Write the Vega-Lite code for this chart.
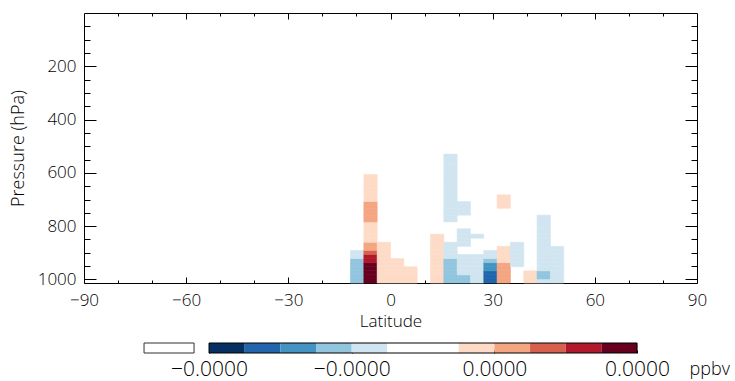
{
  "$schema": "https://vega.github.io/schema/vega-lite/v6.json",
  "padding": {"left": 8, "top": 12, "right": 0, "bottom": 4},
  "background": "white",
  "config": {
    "font": "Open Sans",
    "axis": {"labelFont": "Open Sans", "titleFont": "Open Sans", "labelFontWeight": 300, "titleFontWeight": 300, "labelColor": "#000000", "titleColor": "#000000", "tickColor": "#000000", "domainColor": "#000000", "labelFontSize": 17, "titleFontSize": 17, "labelFlush": false, "grid": false, "domain": false, "labelOverlap": false}
  },
  "datasets": {
    "cells": [
      {"lat":-11.739,"lat2":-7.826,"p":1013.25,"p2":998.05,"c":4},
      {"lat":-11.739,"lat2":-7.826,"p":998.05,"p2":982.76,"c":4},
      {"lat":-11.739,"lat2":-7.826,"p":982.76,"p2":967.47,"c":4},
      {"lat":-11.739,"lat2":-7.826,"p":967.47,"p2":952.19,"c":4},
      {"lat":-11.739,"lat2":-7.826,"p":952.19,"p2":936.91,"c":4},
      {"lat":-11.739,"lat2":-7.826,"p":936.91,"p2":921.62,"c":4},
      {"lat":-11.739,"lat2":-7.826,"p":921.62,"p2":906.34,"c":5},
      {"lat":-11.739,"lat2":-7.826,"p":906.34,"p2":891.05,"c":5},
      {"lat":-7.826,"lat2":-3.913,"p":1013.25,"p2":998.05,"c":12},
      {"lat":-7.826,"lat2":-3.913,"p":998.05,"p2":982.76,"c":12},
      {"lat":-7.826,"lat2":-3.913,"p":982.76,"p2":967.47,"c":12},
      {"lat":-7.826,"lat2":-3.913,"p":967.47,"p2":952.19,"c":12},
      {"lat":-7.826,"lat2":-3.913,"p":952.19,"p2":936.91,"c":12},
      {"lat":-7.826,"lat2":-3.913,"p":936.91,"p2":921.62,"c":11},
      {"lat":-7.826,"lat2":-3.913,"p":921.62,"p2":906.34,"c":11},
      {"lat":-7.826,"lat2":-3.913,"p":906.34,"p2":891.05,"c":10},
      {"lat":-7.826,"lat2":-3.913,"p":891.05,"p2":875.77,"c":9},
      {"lat":-7.826,"lat2":-3.913,"p":875.77,"p2":860.49,"c":9},
      {"lat":-7.826,"lat2":-3.913,"p":860.49,"p2":845.21,"c":8},
      {"lat":-7.826,"lat2":-3.913,"p":845.21,"p2":829.92,"c":8},
      {"lat":-7.826,"lat2":-3.913,"p":829.92,"p2":809.55,"c":8},
      {"lat":-7.826,"lat2":-3.913,"p":809.55,"p2":784.08,"c":8},
      {"lat":-7.826,"lat2":-3.913,"p":784.08,"p2":758.62,"c":9},
      {"lat":-7.826,"lat2":-3.913,"p":758.62,"p2":733.15,"c":9},
      {"lat":-7.826,"lat2":-3.913,"p":733.15,"p2":707.69,"c":9},
      {"lat":-7.826,"lat2":-3.913,"p":707.69,"p2":682.23,"c":8},
      {"lat":-7.826,"lat2":-3.913,"p":682.23,"p2":644.05,"c":8},
      {"lat":-7.826,"lat2":-3.913,"p":644.05,"p2":605.87,"c":8},
      {"lat":-3.913,"lat2":0,"p":1013.25,"p2":998.05,"c":8},
      {"lat":-3.913,"lat2":0,"p":998.05,"p2":982.76,"c":8},
      {"lat":-3.913,"lat2":0,"p":982.76,"p2":967.47,"c":8},
      {"lat":-3.913,"lat2":0,"p":967.47,"p2":952.19,"c":8},
      {"lat":-3.913,"lat2":0,"p":952.19,"p2":936.91,"c":8},
      {"lat":-3.913,"lat2":0,"p":936.91,"p2":921.62,"c":8},
      {"lat":-3.913,"lat2":0,"p":921.62,"p2":906.34,"c":8},
      {"lat":-3.913,"lat2":0,"p":906.34,"p2":891.05,"c":8},
      {"lat":-3.913,"lat2":0,"p":891.05,"p2":875.77,"c":8},
      {"lat":-3.913,"lat2":0,"p":875.77,"p2":860.49,"c":8},
      {"lat":0,"lat2":3.913,"p":1013.25,"p2":998.05,"c":8},
      {"lat":0,"lat2":3.913,"p":998.05,"p2":982.76,"c":8},
      {"lat":0,"lat2":3.913,"p":982.76,"p2":967.47,"c":8},
      {"lat":0,"lat2":3.913,"p":967.47,"p2":952.19,"c":8},
      {"lat":0,"lat2":3.913,"p":952.19,"p2":936.91,"c":8},
      {"lat":0,"lat2":3.913,"p":936.91,"p2":921.62,"c":8},
      {"lat":3.913,"lat2":7.826,"p":1013.25,"p2":998.05,"c":8},
      {"lat":3.913,"lat2":7.826,"p":998.05,"p2":982.76,"c":8},
      {"lat":3.913,"lat2":7.826,"p":982.76,"p2":967.47,"c":8},
      {"lat":3.913,"lat2":7.826,"p":967.47,"p2":952.19,"c":8},
      {"lat":11.739,"lat2":15.652,"p":1013.25,"p2":998.05,"c":8},
      {"lat":11.739,"lat2":15.652,"p":998.05,"p2":982.76,"c":8},
      {"lat":11.739,"lat2":15.652,"p":982.76,"p2":967.47,"c":8},
      {"lat":11.739,"lat2":15.652,"p":967.47,"p2":952.19,"c":8},
      {"lat":11.739,"lat2":15.652,"p":952.19,"p2":936.91,"c":8},
      {"lat":11.739,"lat2":15.652,"p":936.91,"p2":921.62,"c":8},
      {"lat":11.739,"lat2":15.652,"p":921.62,"p2":906.34,"c":8},
      {"lat":11.739,"lat2":15.652,"p":906.34,"p2":891.05,"c":8},
      {"lat":11.739,"lat2":15.652,"p":891.05,"p2":875.77,"c":8},
      {"lat":11.739,"lat2":15.652,"p":875.77,"p2":860.49,"c":8},
      {"lat":11.739,"lat2":15.652,"p":860.49,"p2":845.21,"c":8},
      {"lat":11.739,"lat2":15.652,"p":845.21,"p2":829.92,"c":8},
      {"lat":15.652,"lat2":19.565,"p":1013.25,"p2":998.05,"c":4},
      {"lat":15.652,"lat2":19.565,"p":998.05,"p2":982.76,"c":4},
      {"lat":15.652,"lat2":19.565,"p":982.76,"p2":967.47,"c":4},
      {"lat":15.652,"lat2":19.565,"p":967.47,"p2":952.19,"c":4},
      {"lat":15.652,"lat2":19.565,"p":952.19,"p2":936.91,"c":4},
      {"lat":15.652,"lat2":19.565,"p":936.91,"p2":921.62,"c":4},
      {"lat":15.652,"lat2":19.565,"p":921.62,"p2":906.34,"c":5},
      {"lat":15.652,"lat2":19.565,"p":906.34,"p2":891.05,"c":5},
      {"lat":15.652,"lat2":19.565,"p":891.05,"p2":875.77,"c":5},
      {"lat":15.652,"lat2":19.565,"p":875.77,"p2":860.49,"c":5},
      {"lat":15.652,"lat2":19.565,"p":784.08,"p2":758.62,"c":5},
      {"lat":15.652,"lat2":19.565,"p":758.62,"p2":733.15,"c":5},
      {"lat":15.652,"lat2":19.565,"p":733.15,"p2":707.69,"c":5},
      {"lat":15.652,"lat2":19.565,"p":707.69,"p2":682.23,"c":5},
      {"lat":15.652,"lat2":19.565,"p":682.23,"p2":644.05,"c":5},
      {"lat":15.652,"lat2":19.565,"p":644.05,"p2":605.87,"c":5},
      {"lat":15.652,"lat2":19.565,"p":605.87,"p2":567.70,"c":5},
      {"lat":15.652,"lat2":19.565,"p":567.70,"p2":529.52,"c":5},
      {"lat":19.565,"lat2":23.478,"p":1013.25,"p2":998.05,"c":4},
      {"lat":19.565,"lat2":23.478,"p":998.05,"p2":982.76,"c":4},
      {"lat":19.565,"lat2":23.478,"p":982.76,"p2":967.47,"c":5},
      {"lat":19.565,"lat2":23.478,"p":967.47,"p2":952.19,"c":5},
      {"lat":19.565,"lat2":23.478,"p":952.19,"p2":936.91,"c":5},
      {"lat":19.565,"lat2":23.478,"p":936.91,"p2":921.62,"c":5},
      {"lat":19.565,"lat2":23.478,"p":921.62,"p2":906.34,"c":5},
      {"lat":19.565,"lat2":23.478,"p":875.77,"p2":860.49,"c":5},
      {"lat":19.565,"lat2":23.478,"p":860.49,"p2":845.21,"c":5},
      {"lat":19.565,"lat2":23.478,"p":845.21,"p2":829.92,"c":5},
      {"lat":19.565,"lat2":23.478,"p":829.92,"p2":809.55,"c":5},
      {"lat":19.565,"lat2":23.478,"p":758.62,"p2":733.15,"c":5},
      {"lat":19.565,"lat2":23.478,"p":733.15,"p2":707.69,"c":5},
      {"lat":23.478,"lat2":27.391,"p":1013.25,"p2":998.05,"c":5},
      {"lat":23.478,"lat2":27.391,"p":998.05,"p2":982.76,"c":5},
      {"lat":23.478,"lat2":27.391,"p":982.76,"p2":967.47,"c":5},
      {"lat":23.478,"lat2":27.391,"p":967.47,"p2":952.19,"c":5},
      {"lat":23.478,"lat2":27.391,"p":952.19,"p2":936.91,"c":5},
      {"lat":23.478,"lat2":27.391,"p":936.91,"p2":921.62,"c":5},
      {"lat":23.478,"lat2":27.391,"p":921.62,"p2":906.34,"c":5},
      {"lat":23.478,"lat2":27.391,"p":845.21,"p2":829.92,"c":5},
      {"lat":27.391,"lat2":31.304,"p":1013.25,"p2":998.05,"c":2},
      {"lat":27.391,"lat2":31.304,"p":998.05,"p2":982.76,"c":2},
      {"lat":27.391,"lat2":31.304,"p":982.76,"p2":967.47,"c":2},
      {"lat":27.391,"lat2":31.304,"p":967.47,"p2":952.19,"c":3},
      {"lat":27.391,"lat2":31.304,"p":952.19,"p2":936.91,"c":3},
      {"lat":27.391,"lat2":31.304,"p":936.91,"p2":921.62,"c":4},
      {"lat":27.391,"lat2":31.304,"p":921.62,"p2":906.34,"c":5},
      {"lat":27.391,"lat2":31.304,"p":906.34,"p2":891.05,"c":5},
      {"lat":31.304,"lat2":35.217,"p":1013.25,"p2":998.05,"c":9},
      {"lat":31.304,"lat2":35.217,"p":998.05,"p2":982.76,"c":9},
      {"lat":31.304,"lat2":35.217,"p":982.76,"p2":967.47,"c":9},
      {"lat":31.304,"lat2":35.217,"p":967.47,"p2":952.19,"c":9},
      {"lat":31.304,"lat2":35.217,"p":952.19,"p2":936.91,"c":9},
      {"lat":31.304,"lat2":35.217,"p":936.91,"p2":921.62,"c":8},
      {"lat":31.304,"lat2":35.217,"p":921.62,"p2":906.34,"c":8},
      {"lat":31.304,"lat2":35.217,"p":906.34,"p2":891.05,"c":8},
      {"lat":31.304,"lat2":35.217,"p":891.05,"p2":875.77,"c":8},
      {"lat":31.304,"lat2":35.217,"p":733.15,"p2":707.69,"c":8},
      {"lat":31.304,"lat2":35.217,"p":707.69,"p2":682.23,"c":8},
      {"lat":35.217,"lat2":39.130,"p":952.19,"p2":936.91,"c":5},
      {"lat":35.217,"lat2":39.130,"p":936.91,"p2":921.62,"c":5},
      {"lat":35.217,"lat2":39.130,"p":921.62,"p2":906.34,"c":5},
      {"lat":35.217,"lat2":39.130,"p":906.34,"p2":891.05,"c":5},
      {"lat":35.217,"lat2":39.130,"p":891.05,"p2":875.77,"c":5},
      {"lat":35.217,"lat2":39.130,"p":875.77,"p2":860.49,"c":5},
      {"lat":39.130,"lat2":43.043,"p":1013.25,"p2":998.05,"c":8},
      {"lat":39.130,"lat2":43.043,"p":998.05,"p2":982.76,"c":8},
      {"lat":39.130,"lat2":43.043,"p":982.76,"p2":967.47,"c":8},
      {"lat":43.043,"lat2":46.957,"p":1013.25,"p2":998.05,"c":5},
      {"lat":43.043,"lat2":46.957,"p":998.05,"p2":982.76,"c":4},
      {"lat":43.043,"lat2":46.957,"p":982.76,"p2":967.47,"c":4},
      {"lat":43.043,"lat2":46.957,"p":967.47,"p2":952.19,"c":5},
      {"lat":43.043,"lat2":46.957,"p":952.19,"p2":936.91,"c":5},
      {"lat":43.043,"lat2":46.957,"p":936.91,"p2":921.62,"c":5},
      {"lat":43.043,"lat2":46.957,"p":921.62,"p2":906.34,"c":5},
      {"lat":43.043,"lat2":46.957,"p":906.34,"p2":891.05,"c":5},
      {"lat":43.043,"lat2":46.957,"p":891.05,"p2":875.77,"c":5},
      {"lat":43.043,"lat2":46.957,"p":875.77,"p2":860.49,"c":5},
      {"lat":43.043,"lat2":46.957,"p":860.49,"p2":845.21,"c":5},
      {"lat":43.043,"lat2":46.957,"p":845.21,"p2":829.92,"c":5},
      {"lat":43.043,"lat2":46.957,"p":829.92,"p2":809.55,"c":5},
      {"lat":43.043,"lat2":46.957,"p":809.55,"p2":784.08,"c":5},
      {"lat":43.043,"lat2":46.957,"p":784.08,"p2":758.62,"c":5},
      {"lat":46.957,"lat2":50.870,"p":1013.25,"p2":998.05,"c":5},
      {"lat":46.957,"lat2":50.870,"p":998.05,"p2":982.76,"c":5},
      {"lat":46.957,"lat2":50.870,"p":982.76,"p2":967.47,"c":5},
      {"lat":46.957,"lat2":50.870,"p":967.47,"p2":952.19,"c":5},
      {"lat":46.957,"lat2":50.870,"p":952.19,"p2":936.91,"c":5},
      {"lat":46.957,"lat2":50.870,"p":936.91,"p2":921.62,"c":5},
      {"lat":46.957,"lat2":50.870,"p":921.62,"p2":906.34,"c":5},
      {"lat":46.957,"lat2":50.870,"p":906.34,"p2":891.05,"c":5},
      {"lat":46.957,"lat2":50.870,"p":891.05,"p2":875.77,"c":5}
    ],
    "cb": [
      {"kind":"bin","lo":-3.0e-5,"hi":-2.5e-5,"c":1},
      {"kind":"bin","lo":-2.5e-5,"hi":-2.0e-5,"c":2},
      {"kind":"bin","lo":-2.0e-5,"hi":-1.5e-5,"c":3},
      {"kind":"bin","lo":-1.5e-5,"hi":-1.0e-5,"c":4},
      {"kind":"bin","lo":-1.0e-5,"hi":-0.5e-5,"c":5},
      {"kind":"bin","lo":-0.5e-5,"hi":0,"c":6},
      {"kind":"bin","lo":0,"hi":0.5e-5,"c":7},
      {"kind":"bin","lo":0.5e-5,"hi":1.0e-5,"c":8},
      {"kind":"bin","lo":1.0e-5,"hi":1.5e-5,"c":9},
      {"kind":"bin","lo":1.5e-5,"hi":2.0e-5,"c":10},
      {"kind":"bin","lo":2.0e-5,"hi":2.5e-5,"c":11},
      {"kind":"bin","lo":2.5e-5,"hi":3.0e-5,"c":12},
      {"kind":"box","lo":-3.911e-5,"hi":-3.21e-5,"c":0},
      {"kind":"frame","lo":-3.0e-5,"hi":3.0e-5,"c":0}
    ]
  },
  "vconcat": [
    {
      "width": 613,
      "height": 270,
      "view": {"stroke": "#000000", "strokeWidth": 1},
      "data": {"name": "cells"},
      "layer": [
        {
          "mark": {"type": "rect", "strokeWidth": 0.6},
          "encoding": {
            "x": {"field": "lat", "type": "quantitative", "scale": {"domain": [-90, 90], "nice": false, "zero": false},
                  "axis": {"orient": "bottom", "values": [-90, -60, -30, 0, 30, 60, 90], "tickSize": -6, "labelPadding": 15, "title": "Latitude", "titlePadding": 5}},
            "x2": {"field": "lat2"},
            "y": {"field": "p", "type": "quantitative", "scale": {"domain": [0, 1013.25], "reverse": true, "nice": false, "zero": false},
                  "axis": {"orient": "left", "values": [200, 400, 600, 800, 1000], "format": "d", "tickSize": -12, "labelPadding": 20, "title": "Pressure  (hPa)", "titleFontSize": 18, "titlePadding": 10}},
            "y2": {"field": "p2"},
            "fill": {"field": "c", "type": "ordinal", "legend": null,
                     "scale": {"domain": [0,1,2,3,4,5,6,7,8,9,10,11,12], "range": ["#ffffff","#053061","#2166ac","#4393c3","#92c5de","#d1e5f0","#ffffff","#ffffff","#fddbc7","#f4a582","#d6604d","#b2182b","#67001f"]}},
            "stroke": {"field": "c", "type": "ordinal", "legend": null,
                     "scale": {"domain": [0,1,2,3,4,5,6,7,8,9,10,11,12], "range": ["#ffffff","#053061","#2166ac","#4393c3","#92c5de","#d1e5f0","#ffffff","#ffffff","#fddbc7","#f4a582","#d6604d","#b2182b","#67001f"]}}
          }
        },
        {
          "mark": {"type": "rect", "opacity": 0},
          "encoding": {
            "x": {"field": "lat", "type": "quantitative", "scale": {"domain": [-90, 90], "nice": false, "zero": false},
                  "axis": {"orient": "bottom", "values": [-80,-70,-50,-40,-20,-10,10,20,40,50,70,80], "tickSize": -3, "labels": false, "title": null}},
            "y": {"field": "p", "type": "quantitative", "scale": {"domain": [0, 1013.25], "reverse": true, "nice": false, "zero": false},
                  "axis": {"orient": "left", "values": [50,100,150,250,300,350,450,500,550,650,700,750,850,900,950], "tickSize": -6, "labels": false, "title": null}}
          }
        },
        {
          "mark": {"type": "rect", "opacity": 0},
          "encoding": {
            "x": {"field": "lat", "type": "quantitative", "scale": {"domain": [-90, 90], "nice": false, "zero": false},
                  "axis": {"orient": "top", "values": [-60, -30, 0, 30, 60], "tickSize": -6, "labels": false, "title": null}},
            "y": {"field": "p", "type": "quantitative", "scale": {"domain": [0, 1013.25], "reverse": true, "nice": false, "zero": false},
                  "axis": {"orient": "right", "values": [200, 400, 600, 800, 1000], "tickSize": -12, "labels": false, "title": null}}
          }
        },
        {
          "mark": {"type": "rect", "opacity": 0},
          "encoding": {
            "x": {"field": "lat", "type": "quantitative", "scale": {"domain": [-90, 90], "nice": false, "zero": false},
                  "axis": {"orient": "top", "values": [-80,-70,-50,-40,-20,-10,10,20,40,50,70,80], "tickSize": -3, "labels": false, "title": null}},
            "y": {"field": "p", "type": "quantitative", "scale": {"domain": [0, 1013.25], "reverse": true, "nice": false, "zero": false},
                  "axis": {"orient": "right", "values": [50,100,150,250,300,350,450,500,550,650,700,750,850,900,950], "tickSize": -6, "labels": false, "title": null}}
          }
        }
      ],
      "resolve": {"axis": {"x": "independent", "y": "independent"}}
    },
    {
      "width": 613,
      "height": 10,
      "view": {"stroke": null},
      "data": {"name": "cb"},
      "layer": [
        {
          "transform": [{"filter": "datum.kind == 'bin'"}],
          "mark": {"type": "rect"},
          "encoding": {
            "x": {"field": "lo", "type": "quantitative", "scale": {"domain": [-4.7525e-5, 3.84e-5], "nice": false, "zero": false},
                  "axis": {"orient": "bottom", "values": [-3e-5, -1e-5, 1e-5, 3e-5], "labelExpr": "datum.value < 0 ? '−0.0000' : '0.0000'", "tickSize": -3, "labelPadding": 8, "labelFontSize": 21, "title": "ppbv", "titleFontSize": 18, "titleX": 605, "titleY": 21.5, "titleAlign": "left", "titleBaseline": "alphabetic", "titleAngle": 0}},
            "x2": {"field": "hi"},
            "fill": {"field": "c", "type": "ordinal", "legend": null,
                     "scale": {"domain": [0,1,2,3,4,5,6,7,8,9,10,11,12], "range": ["#ffffff","#053061","#2166ac","#4393c3","#92c5de","#d1e5f0","#ffffff","#ffffff","#fddbc7","#f4a582","#d6604d","#b2182b","#67001f"]}}
          }
        },
        {
          "transform": [{"filter": "datum.kind == 'box'"}],
          "mark": {"type": "rect", "fill": "white", "stroke": "#333333", "strokeWidth": 1},
          "encoding": {
            "x": {"field": "lo", "type": "quantitative"},
            "x2": {"field": "hi"}
          }
        },
        {
          "transform": [{"filter": "datum.kind == 'frame'"}],
          "mark": {"type": "rect", "fill": null, "fillOpacity": 0, "stroke": "black", "strokeWidth": 1},
          "encoding": {
            "x": {"field": "lo", "type": "quantitative"},
            "x2": {"field": "hi"}
          }
        }
      ]
    }
  ],
  "bounds": "flush",
  "spacing": 60
}
